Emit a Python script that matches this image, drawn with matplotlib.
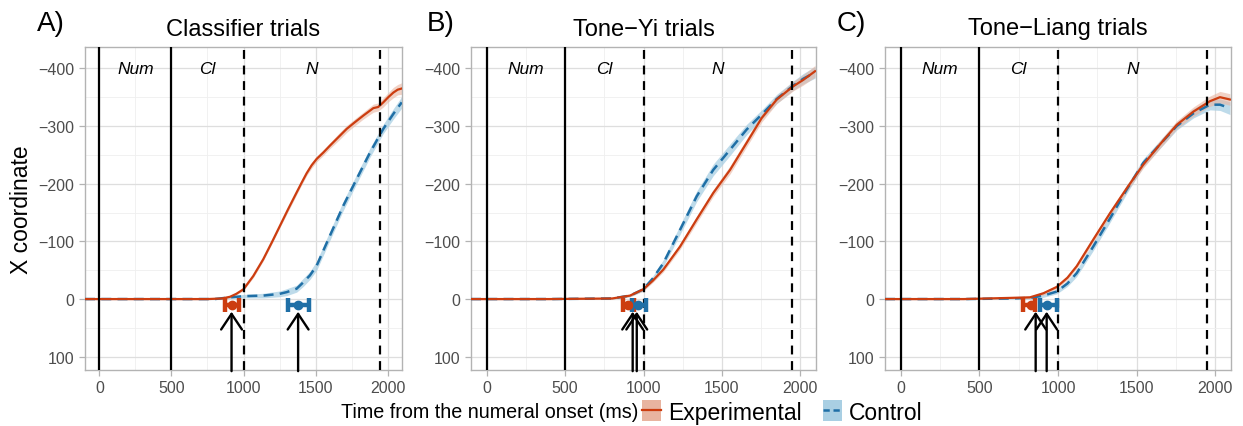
import numpy as np
import matplotlib
matplotlib.use('Agg')
import matplotlib.pyplot as plt
from matplotlib.lines import Line2D
from matplotlib.patches import Patch
from matplotlib.ticker import MultipleLocator

plt.rcParams['font.family'] = ['Liberation Sans', 'DejaVu Sans']

# ---- data ----
titles = ['Classifier trials', 'Tone\u2212Yi trials', 'Tone\u2212Liang trials']
tags = ['A)', 'B)', 'C)']
phase_names = ['Num', 'Cl', 'N']
phase_x = [250, 750, 1475]
solid_lines = [0, 500]
dashed_lines = [1000, 1950]

# panel A
a_exp_t = [-100, 0, 200, 400, 600, 750, 850, 907, 950, 1000, 1068, 1137, 1200, 1253, 1310, 1369, 1404, 1438, 1473, 1508, 1554, 1600, 1660, 1716, 1770, 1831, 1901, 1935, 1970, 2005, 2040, 2070, 2098]
a_exp_y = [0, 0, 0, 0, 0, 0, -1, -4, -9, -17, -40, -69, -100, -127, -156, -185, -202, -218, -232, -243, -254, -266, -281, -295, -306, -318, -331, -333, -341, -350, -358, -363, -365]
a_exp_se = [1, 1, 1, 1, 1, 1, 1, 2, 2, 2, 3, 3, 3, 3, 4, 4, 4, 4, 5, 5, 5, 5, 6, 6, 6, 6, 7, 7, 8, 8, 9, 9, 10]
a_ctl_t = [-100, 0, 400, 800, 907, 1000, 1137, 1250, 1300, 1369, 1415, 1461, 1508, 1554, 1600, 1693, 1785, 1878, 1970, 2040, 2098]
a_ctl_y = [0, 0, 0, 0, -3, -5, -6, -9, -12, -18, -29, -41, -58, -84, -110, -162, -208, -254, -295, -321, -341]
a_ctl_se = [1, 1, 1, 1, 2, 3, 4, 5, 6, 6, 7, 7, 8, 8, 8, 8, 8, 8, 8, 9, 10]

# panel B
b_exp_t = [-100, 0, 400, 800, 914, 999, 1060, 1126, 1233, 1339, 1445, 1552, 1658, 1754, 1850, 1955, 2019, 2094]
b_exp_y = [0, 0, 0, -1, -6, -17, -32, -51, -91, -138, -184, -224, -271, -314, -346, -369, -380, -395]
b_exp_se = [1, 1, 1, 1, 2, 3, 3, 4, 5, 6, 6, 7, 7, 7, 7, 8, 9, 10]
b_ctl_t = [-100, 0, 400, 800, 914, 999, 1060, 1126, 1233, 1339, 1445, 1552, 1658, 1754, 1850, 1955, 2019, 2094]
b_ctl_y = [0, 0, 0, -1, -6, -17, -36, -62, -120, -178, -224, -259, -294, -320, -347, -370, -382, -393]
b_ctl_se = [1, 1, 1, 1, 2, 3, 4, 6, 8, 9, 10, 10, 9, 8, 8, 8, 9, 10]

# panel C
c_exp_t = [-100, 0, 400, 695, 822, 907, 992, 1060, 1119, 1224, 1331, 1437, 1542, 1648, 1755, 1861, 1966, 2030, 2093]
c_exp_y = [0, 0, 0, -2, -3, -10, -21, -37, -57, -103, -149, -192, -233, -268, -302, -325, -343, -350, -346]
c_exp_se = [1, 1, 1, 1, 2, 3, 3, 4, 4, 5, 5, 6, 6, 7, 7, 8, 9, 10, 10]
c_ctl_t = [-100, 0, 400, 695, 822, 907, 992, 1060, 1119, 1224, 1331, 1437, 1542, 1648, 1755, 1861, 1966, 2030, 2093]
c_ctl_y = [0, 0, 0, -1, -2, -6, -13, -27, -45, -91, -140, -190, -236, -268, -300, -322, -337, -337, -331]
c_ctl_se = [1, 1, 1, 1, 2, 3, 4, 5, 6, 7, 7, 7, 7, 7, 7, 8, 9, 10, 11]

# divergence points: (centre, low, high), arrows
exp_point = [(917, 870, 972), (903, 871, 939), (826, 780, 854)]
ctl_point = [(1379, 1310, 1455), (967, 925, 1016), (928, 886, 996)]
arrow_x = [[917, 1379], [931, 957], [858, 928]]
point_y = 10

series = [
    (a_exp_t, a_exp_y, a_exp_se, a_ctl_t, a_ctl_y, a_ctl_se),
    (b_exp_t, b_exp_y, b_exp_se, b_ctl_t, b_ctl_y, b_ctl_se),
    (c_exp_t, c_exp_y, c_exp_se, c_ctl_t, c_ctl_y, c_ctl_se),
]

red = '#CC3D10'
red_fill = '#E8B4A0'
blue = '#1F6FA6'
blue_fill = '#A9CFE3'
grid_col = '#DEDEDE'
border_col = '#B3B3B3'
tick_txt = '#4D4D4D'

fig = plt.figure(figsize=(12.43, 4.27), dpi=100)
lefts = [85, 471, 885]
widths = [317, 345, 346]
tag_x = [37, 427, 837]

for i in range(3):
    ax = fig.add_axes([lefts[i] / 1243, 1 - 371 / 427, widths[i] / 1243, 323 / 427])
    et, ey, ese = np.array(series[i][0]), np.array(series[i][1]), np.array(series[i][2])
    ct, cy, cse = np.array(series[i][3]), np.array(series[i][4]), np.array(series[i][5])

    # grid
    ax.xaxis.set_major_locator(MultipleLocator(500))
    ax.xaxis.set_minor_locator(MultipleLocator(250))
    ax.yaxis.set_major_locator(MultipleLocator(100))
    ax.yaxis.set_minor_locator(MultipleLocator(50))
    ax.grid(which='major', color=grid_col, lw=0.9)
    ax.grid(which='minor', color='#EFEFEF', lw=0.6)
    ax.set_axisbelow(True)

    ax.fill_between(ct, cy - cse, cy + cse, color=blue_fill, alpha=0.75, lw=0, zorder=2)
    ax.fill_between(et, ey - ese, ey + ese, color=red_fill, alpha=0.6, lw=0, zorder=2)
    ax.plot(ct, cy, color=blue, lw=1.8, dashes=(4, 2.5), zorder=3)
    ax.plot(et, ey, color=red, lw=1.6, zorder=4)

    for x in solid_lines:
        ax.axvline(x, color='black', lw=1.6, zorder=5)
    for x in dashed_lines:
        ax.axvline(x, color='black', lw=1.6, dashes=(4, 3), zorder=5)

    for name, x in zip(phase_names, phase_x):
        ax.text(x, -400, name, style='italic', fontsize=12.5, ha='center', va='center', zorder=6)

    # divergence points
    for (cx, lo, hi), col in [(exp_point[i], red), (ctl_point[i], blue)]:
        ax.errorbar(cx, point_y, xerr=[[cx - lo], [hi - cx]], fmt='o', color=col, ms=6,
                    elinewidth=3.2, capsize=5, capthick=3.2, zorder=7)
    for x in arrow_x[i]:
        ax.annotate('', xy=(x, 22), xytext=(x, 125),
                    arrowprops=dict(arrowstyle='->,head_length=0.75,head_width=0.5',
                                    color='black', lw=1.7, mutation_scale=15, shrinkA=0, shrinkB=0),
                    zorder=8, annotation_clip=False)

    ax.set_xlim(-100, 2100)
    ax.set_ylim(123, -437)
    for s in ax.spines.values():
        s.set_color(border_col)
        s.set_linewidth(1.0)
    ax.tick_params(which='major', length=4, color=border_col, labelcolor=tick_txt, labelsize=11.5, width=0.9)
    ax.tick_params(which='minor', length=0)
    ax.set_xticks([0, 500, 1000, 1500, 2000])
    ax.set_yticks([-400, -300, -200, -100, 0, 100])

    ax.set_title(titles[i], fontsize=17, pad=9)
    fig.text(tag_x[i] / 1243, 1 - 24 / 427, tags[i], fontsize=20, ha='left', va='center')
    if i == 0:
        ax.set_ylabel('X coordinate', fontsize=16.5, labelpad=4)

fig.text(638 / 1243, 1 - 413 / 427, 'Time from the numeral onset (ms)', fontsize=14.2,
         ha='right', va='center')
handles = [(Patch(facecolor=red_fill, edgecolor='none'), Line2D([], [], color=red, lw=1.6)),
           (Patch(facecolor=blue_fill, edgecolor='none'), Line2D([], [], color=blue, lw=1.8, dashes=(2.5, 1.5)))]
fig.legend(handles, ['Experimental', 'Control'], loc='center left', ncol=2,
           bbox_to_anchor=(642 / 1243, 1 - 413 / 427), frameon=False, fontsize=16.5,
           handlelength=0.85, handleheight=1.0, handletextpad=0.3, columnspacing=0.9,
           borderaxespad=0, borderpad=0)

plt.savefig('out.png', dpi=100)
plt.close()
